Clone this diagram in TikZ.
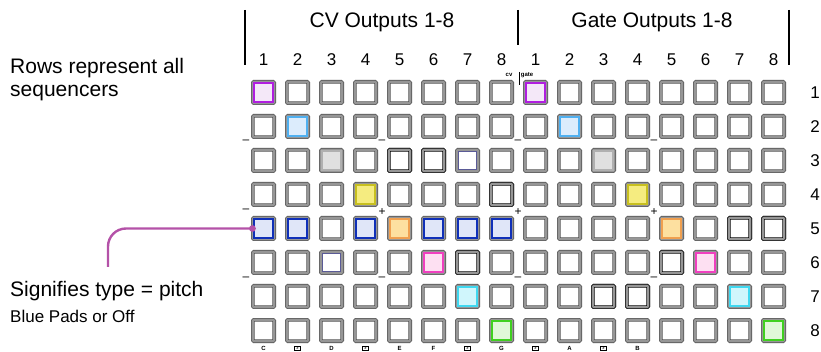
\documentclass[tikz,border=0pt]{standalone}
\usepackage{fontspec}
\setmainfont{Liberation Sans}
\usepackage{xcolor}
\usetikzlibrary{positioning}
\definecolor{padgray}{RGB}{150,150,150}
\definecolor{padline}{RGB}{80,80,80}
\definecolor{callcol}{RGB}{180,82,168}
\definecolor{navyline}{RGB}{90,90,150}
\definecolor{magline}{RGB}{176,30,224}   \definecolor{magfill}{RGB}{244,232,248}
\definecolor{skyline}{RGB}{80,176,240}   \definecolor{skyfill}{RGB}{220,236,252}
\definecolor{ashline}{RGB}{176,176,176}  \definecolor{ashfill}{RGB}{224,224,224}
\definecolor{lemline}{RGB}{200,192,32}   \definecolor{lemfill}{RGB}{245,236,128}
\definecolor{bluline}{RGB}{16,48,184}    \definecolor{blufill}{RGB}{224,230,248}
\definecolor{oraline}{RGB}{240,160,80}   \definecolor{orafill}{RGB}{253,224,160}
\definecolor{pnkline}{RGB}{240,64,192}   \definecolor{pnkfill}{RGB}{253,224,242}
\definecolor{cyaline}{RGB}{64,216,240}   \definecolor{cyafill}{RGB}{208,246,252}
\definecolor{grnline}{RGB}{64,208,32}    \definecolor{grnfill}{RGB}{224,248,216}

\begin{document}
\begin{tikzpicture}[x=1pt, y=-1pt,
  pad/.style={draw=padline, line width=0.7pt, double=padgray, double distance=2.2pt,
              fill=white, minimum size=21.4pt, inner sep=0pt, rounded corners=1pt},
  dark/.style={draw=black, double=padgray},
  lit/.style={draw=#1line, fill=#1fill, line width=1.6pt, minimum size=18.6pt, inner sep=0pt},
  ring/.style={draw=navyline, fill=white, line width=0.8pt, minimum size=18pt, inner sep=0pt},
  title/.style={font=\fontsize{21}{25}\selectfont, inner sep=0pt, anchor=base},
  num/.style={font=\fontsize{17}{20}\selectfont, inner sep=0pt},
  note/.style={font=\fontsize{21}{23}\selectfont, inner sep=0pt, align=left, anchor=base west},
  subnote/.style={font=\fontsize{17}{20}\selectfont, inner sep=0pt, anchor=base west},
  sign/.style={font=\fontsize{12}{12}\selectfont, inner sep=0pt},
  keylbl/.style={font=\fontsize{6}{6}\bfseries, inner sep=0pt},
  sharp/.style={draw, line width=0.6pt, minimum width=6.5pt, minimum height=4pt,
                inner sep=0pt, font=\fontsize{3.5}{3.5}\bfseries},
  bar/.style={line width=1.4pt},
  callout/.style={draw=callcol, line width=2.4pt, rounded corners=18pt},
]
\useasboundingbox (0,0) rectangle (821,352);

% header
\node[title] (cvtitle) at (382,28) {CV Outputs 1-8};
\node[title] (gatetitle) at (652,28) {Gate Outputs 1-8};
\draw[bar] (245,10) coordinate (lbar) -- (245,65);
\draw[bar] (518,10) coordinate (mbar) -- (518,45);
\draw[bar] (789,10) coordinate (rbar) -- (789,65);
\foreach \c in {1,...,8} {
  \node[num, anchor=base] (cvn-\c) at ({263.5+34*(\c-1)},66) {\c};
  \node[num, anchor=base] (gtn-\c) at ({263.5+34*(\c+7)},66) {\c};
}
\node[keylbl] (cvtag) at (509,75) {cv};
\node[keylbl] (gatetag) at (527,75) {gate};
\draw[line width=0.8pt] (519,72) coordinate (tagbar) -- (519,85);

% pad grid
\foreach \r in {1,...,8}
  \foreach \c in {1,...,16}
    \node[pad] (p-\r-\c) at ({263.5+34*(\c-1)},{92.5+34*(\r-1)}) {};
\foreach \r/\c in {3/5, 3/6, 4/8, 5/15, 5/16, 6/7, 6/13, 7/11, 7/12}
  \node[pad, dark] (d-\r-\c) at (p-\r-\c) {};
\foreach \r/\c/\col in {1/1/mag, 1/9/mag, 2/2/sky, 2/10/sky, 3/3/ash, 3/11/ash,
    4/4/lem, 4/12/lem, 5/1/blu, 5/2/blu, 5/4/blu, 5/6/blu, 5/7/blu, 5/8/blu,
    5/5/ora, 5/13/ora, 6/6/pnk, 6/14/pnk, 7/7/cya, 7/15/cya, 8/8/grn, 8/16/grn}
  \node[lit=\col] (l-\r-\c) at (p-\r-\c) {};
\node[ring] (l-3-7) at (p-3-7) {};
\node[ring] (l-6-3) at (p-6-3) {};

% row numbers
\foreach \r in {1,...,8}
  \node[num] (rn-\r) at (815,{92.5+34*(\r-1)}) {\r};

% small signs between rows
\foreach \x in {246,382,518,654} {
  \node[sign] (s23-\x) at (\x,142) {–};
  \node[sign] (s67-\x) at (\x,279) {–};
}
\node[sign] (s45-246) at (246,211) {–};
\foreach \x in {382,518,654}
  \node[sign] (s45-\x) at (\x,212) {+};

% note keys under the last row
\foreach \c/\t in {1/C, 3/D, 5/E, 6/F, 8/G, 10/A, 12/B}
  \node[keylbl] (k-\c) at ({263.5+34*(\c-1)},348) {\t};
\foreach \c in {2,4,7,9,11}
  \node[sharp] (k-\c) at ({263.5+34*(\c-1)},348) {\#};

% notes
\node[note] (rowsnote) at (10,97) {Rows represent all\\sequencers};
\node[note] (pitchnote) at (10,297) {Signifies type = pitch};
\node[subnote] (bluenote) at (10,322) {Blue Pads or Off};
\coordinate (pitchtip) at (108,267);
\draw[callout] (p-5-1.west) -| (pitchtip);
\fill[callcol] (p-5-1.west) circle (3.4);
\end{tikzpicture}
\end{document}
